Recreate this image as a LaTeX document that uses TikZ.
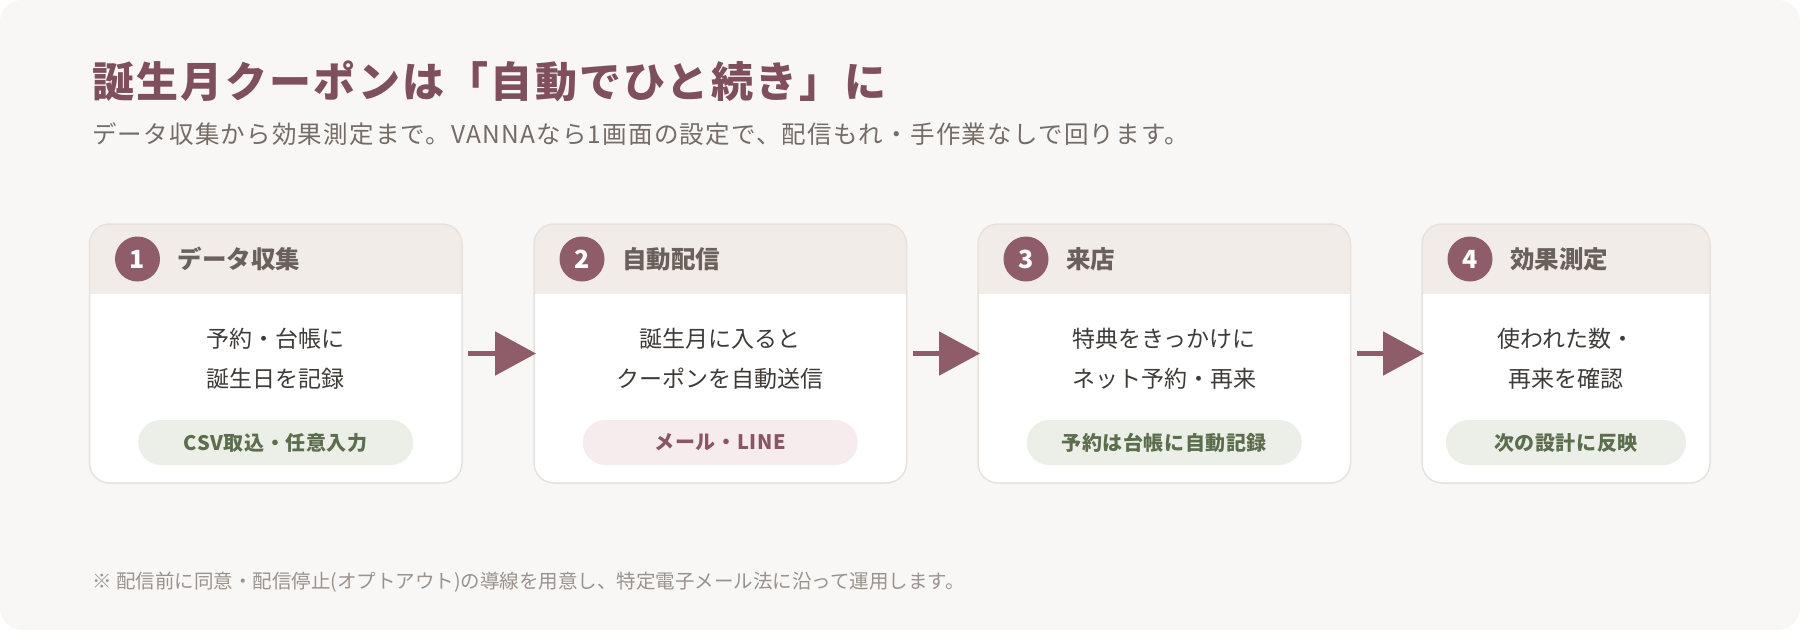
\documentclass[tikz,border=0pt]{standalone}
\usepackage{fontspec}
\setmainfont{Noto Sans CJK JP}
\newfontfamily\spfive{Noto Sans CJK JP}[LetterSpace=5.5]
\newfontfamily\spsub{Noto Sans CJK JP}[LetterSpace=5]
\newfontfamily\spthree{Noto Sans CJK JP}[LetterSpace=3]
\usetikzlibrary{arrows.meta,calc}
\definecolor{bgc}{HTML}{F8F7F5}
\definecolor{cardline}{HTML}{E9E1DC}
\definecolor{hdr}{HTML}{F1ECE8}
\definecolor{mauve}{HTML}{8E5D69}
\definecolor{titlec}{HTML}{7F4F5D}
\definecolor{subc}{HTML}{766C67}
\definecolor{bodyc}{HTML}{3F3B39}
\definecolor{headc}{HTML}{6B615C}
\definecolor{pillg}{HTML}{ECEFE7}
\definecolor{pillgt}{HTML}{5C6E4E}
\definecolor{pillp}{HTML}{F6ECEE}
\definecolor{pillpt}{HTML}{8A5566}
\definecolor{footc}{HTML}{9B928D}
\newcommand{\fsz}[1]{\fontsize{#1}{#1}\selectfont}
% #1 name, #2 center x, #3 card width, #4 number, #5 header, #6 body, #7 pill style, #8 pill width, #9 pill text
\newcommand{\stepcard}[9]{%
  \node[cardbox, minimum width=#3] (#1) at (#2,353.5) {};
  \begin{scope}
    \clip[rounded corners=20pt] (#1.north west) rectangle (#1.south east);
    \fill[hdr] (#1.north west) rectangle ([yshift=-70pt]#1.north east);
  \end{scope}
  \draw[cardline, line width=1.5pt, rounded corners=20pt] (#1.north west) rectangle (#1.south east);
  \node[numc] (#1-n) at ($(#1.north west)+(48,35)$) {#4};
  \node[headtxt] (#1-t) at ($(#1.north west)+(88,35)$) {#5};
  \node[bodytxt] (#1-b) at (#2,359) {#6};
  \node[#7, minimum width=#8] (#1-p) at (#2,442.5) {#9};
}
\begin{document}
\begin{tikzpicture}[x=1pt,y=-1pt,
  cardbox/.style={rectangle, minimum height=259pt, inner sep=0pt, outer sep=0pt, fill=white, rounded corners=20pt},
  numc/.style={circle, fill=mauve, minimum size=45pt, inner sep=0pt, text=white, font=\bfseries\fsz{25}},
  headtxt/.style={anchor=west, inner sep=0pt, text=headc, font=\bfseries\fsz{24.5}},
  bodytxt/.style={align=center, inner sep=0pt, text=bodyc, font=\fontsize{23}{40}\selectfont},
  pillgreen/.style={rounded corners=22.5pt, fill=pillg, minimum height=45pt, inner sep=0pt, text=pillgt, font=\spthree\bfseries\fsz{20}},
  pillpink/.style={rounded corners=22.5pt, fill=pillp, minimum height=45pt, inner sep=0pt, text=pillpt, font=\spthree\bfseries\fsz{20}},
  arr/.style={draw=mauve, line width=5.5pt, -{Triangle[length=41pt,width=43pt]}}
]
\useasboundingbox (0,0) rectangle (1800,630);
\fill[white] (0,0) rectangle (1800,630);
\fill[bgc, rounded corners=22pt] (0,0) rectangle (1800,630);

\node[anchor=base west, inner sep=0pt, text=titlec, font=\spfive\bfseries\fsz{42}] (title) at (92,97) {誕生月クーポンは「自動でひと続き」に};
\node[anchor=base west, inner sep=0pt, text=subc, font=\spsub\fsz{24.5}] (sub) at (92,143) {データ収集から効果測定まで。VANNAなら1画面の設定で、配信もれ・手作業なしで回ります。};

\stepcard{c1}{275.75}{372.5pt}{1}{データ収集}{予約・台帳に\\誕生日を記録}{pillgreen}{275pt}{CSV取込・任意入力}
\stepcard{c2}{720.25}{372.5pt}{2}{自動配信}{誕生月に入ると\\クーポンを自動送信}{pillpink}{275pt}{メール・LINE}
\stepcard{c3}{1164.25}{372.5pt}{3}{来店}{特典をきっかけに\\ネット予約・再来}{pillgreen}{275pt}{予約は台帳に自動記録}
\stepcard{c4}{1566}{288pt}{4}{効果測定}{使われた数・\\再来を確認}{pillgreen}{240pt}{次の設計に反映}

\draw[arr] ([xshift=6pt]c1.east) -- ([xshift=2pt]c2.west);
\draw[arr] ([xshift=6pt]c2.east) -- ([xshift=2pt]c3.west);
\draw[arr] ([xshift=6pt]c3.east) -- ([xshift=2pt]c4.west);

\node[anchor=base west, inner sep=0pt, text=footc, font=\fsz{19.5}] (foot) at (92,588) {※ 配信前に同意・配信停止(オプトアウト)の導線を用意し、特定電子メール法に沿って運用します。};
\end{tikzpicture}
\end{document}
